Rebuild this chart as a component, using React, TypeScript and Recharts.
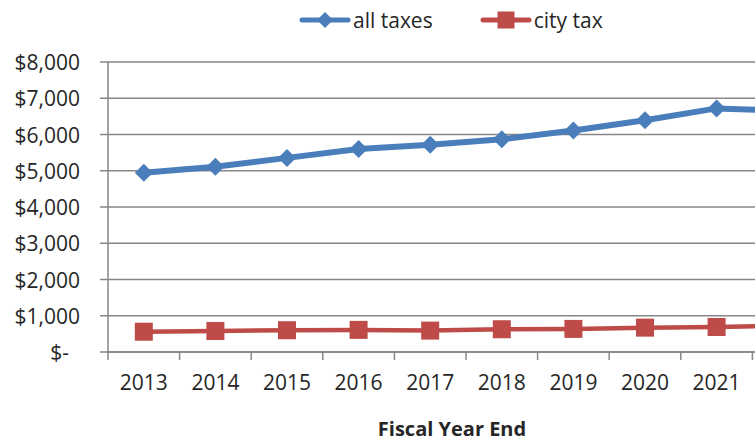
import React from 'react';
import { LineChart, Line, XAxis, YAxis, CartesianGrid, Legend, Label } from 'recharts';

const years = ['2013', '2014', '2015', '2016', '2017', '2018', '2019', '2020', '2021', '2022'];
const allTaxes = [4945, 5110, 5355, 5600, 5715, 5870, 6110, 6395, 6720, 6650];
const cityTax = [560, 580, 600, 610, 590, 628, 637, 672, 690, 730];
const yTicks = [0, 1000, 2000, 3000, 4000, 5000, 6000, 7000, 8000];
const seriesNames = ['all taxes', 'city tax'];
const axisTitle = 'Fiscal Year End';

const data = years.map((year, i) => ({ year, allTaxes: allTaxes[i], cityTax: cityTax[i] }));

const BLUE = '#4A7EBB';
const RED = '#BE4B48';
const GRID = '#878787';
const TEXT = '#262626';
const FONT = '"Open Sans", sans-serif';

const fmt = (v: number) => (v === 0 ? '$-' : '$' + v.toLocaleString('en-US'));

const YTick = (props: any) => {
  const { x, y, payload } = props;
  const v = payload.value as number;
  return (
    <text
      x={v === 0 ? x - 11 : x}
      y={y}
      textAnchor="end"
      dominantBaseline="central"
      fill={TEXT}
      fontSize={21}
      fontFamily={FONT}
    >
      {fmt(v)}
    </text>
  );
};

const XTick = (props: any) => {
  const { x, y, payload, width } = props;
  const half = payload && payload.offset > 2 ? payload.offset : width / (2 * years.length);
  return (
    <g>
      <line x1={x - half} x2={x - half} y1={y} y2={y + 8} stroke={GRID} strokeWidth={1.5} />
      <text
        x={x}
        y={y + 30}
        textAnchor="middle"
        dominantBaseline="central"
        fill={TEXT}
        fontSize={21}
        fontFamily={FONT}
      >
        {payload.value}
      </text>
    </g>
  );
};

const DiamondDot = (props: any) => {
  const { cx, cy, index } = props;
  if (cx == null || cy == null) return null;
  const r = 9;
  return (
    <polygon
      key={'d' + index}
      points={`${cx},${cy - r} ${cx + r},${cy} ${cx},${cy + r} ${cx - r},${cy}`}
      fill={BLUE}
    />
  );
};

const SquareDot = (props: any) => {
  const { cx, cy, index } = props;
  if (cx == null || cy == null) return null;
  const s = 18;
  return <rect key={'s' + index} x={cx - s / 2} y={cy - s / 2} width={s} height={s} fill={RED} />;
};

const LegendContent = () => (
  <div
    style={{
      display: 'flex',
      alignItems: 'center',
      height: 40,
      fontFamily: FONT,
      fontSize: 21,
      color: TEXT,
      whiteSpace: 'nowrap',
    }}
  >
    <svg width={52} height={20} style={{ display: 'block' }}>
      <line x1={3} y1={10} x2={49} y2={10} stroke={BLUE} strokeWidth={5} strokeLinecap="round" />
      <polygon points="26,2 34,10 26,18 18,10" fill={BLUE} />
    </svg>
    <span style={{ marginLeft: 2 }}>{seriesNames[0]}</span>
    <svg width={52} height={20} style={{ display: 'block', marginLeft: 47 }}>
      <line x1={3} y1={10} x2={49} y2={10} stroke={RED} strokeWidth={5} strokeLinecap="round" />
      <rect x={17.5} y={1.5} width={17} height={17} fill={RED} />
    </svg>
    <span style={{ marginLeft: 2 }}>{seriesNames[1]}</span>
  </div>
);

const TitleLabel = (props: any) => {
  const { viewBox } = props;
  const cx = viewBox.x + viewBox.width / 2 - 14;
  return (
    <text
      x={cx}
      y={428}
      textAnchor="middle"
      dominantBaseline="central"
      fill={TEXT}
      fontSize={20}
      fontWeight={700}
      fontFamily={FONT}
    >
      {axisTitle}
    </text>
  );
};

export default function App() {
  return (
    <div
      style={{
        position: 'absolute',
        left: 0,
        top: 0,
        width: 755,
        height: 439,
        overflow: 'hidden',
        background: '#ffffff',
      }}
    >
      <LineChart
        width={834}
        height={439}
        data={data}
        margin={{ top: 22, right: 10, bottom: 0, left: 0 }}
      >
        <CartesianGrid vertical={false} stroke={GRID} strokeWidth={1.5} />
        <Legend
          verticalAlign="top"
          content={<LegendContent />}
          wrapperStyle={{ top: 0, left: 299, width: 340, height: 40 }}
        />
        <XAxis
          dataKey="year"
          scale="band"
          height={87}
          tickLine={false}
          tickSize={0}
          tickMargin={0}
          axisLine={{ stroke: GRID, strokeWidth: 1.5 }}
          tick={<XTick />}
          interval={0}
        >
          <Label content={<TitleLabel />} />
        </XAxis>
        <YAxis
          width={108}
          domain={[0, 8000]}
          ticks={yTicks}
          interval={0}
          tickSize={8}
          tickMargin={20}
          axisLine={{ stroke: GRID, strokeWidth: 1.5 }}
          tickLine={{ stroke: GRID, strokeWidth: 1.5 }}
          tick={<YTick />}
        />
        <Line
          type="linear"
          dataKey="allTaxes"
          name={seriesNames[0]}
          stroke={BLUE}
          strokeWidth={6}
          dot={DiamondDot}
          activeDot={false}
          isAnimationActive={false}
        />
        <Line
          type="linear"
          dataKey="cityTax"
          name={seriesNames[1]}
          stroke={RED}
          strokeWidth={4.5}
          dot={SquareDot}
          activeDot={false}
          isAnimationActive={false}
        />
      </LineChart>
    </div>
  );
}
